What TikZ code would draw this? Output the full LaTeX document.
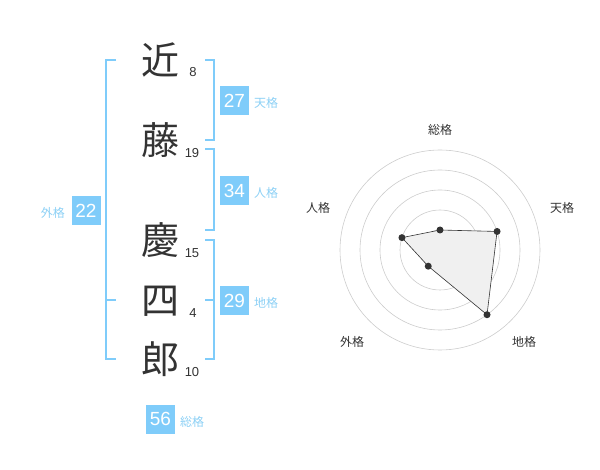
\documentclass[tikz,border=0pt]{standalone}
\usepackage{fontspec}
\setmainfont{Liberation Sans}
\newfontfamily\jp{Noto Sans CJK JP}
\definecolor{kakusky}{RGB}{127,204,250}
\definecolor{kakutext}{RGB}{140,208,245}
\definecolor{inkgray}{RGB}{51,51,51}
\tikzstyle{kanji}=[text=inkgray,font=\jp\fontsize{38}{38}\selectfont,inner sep=0pt]
\tikzstyle{strokes}=[text=inkgray,font=\fontsize{13}{13}\selectfont,inner sep=0pt]
\tikzstyle{score}=[fill=kakusky,text=white,font=\fontsize{19}{19}\selectfont,minimum size=29pt,inner sep=0pt]
\tikzstyle{kakuname}=[text=kakutext,font=\jp\fontsize{12}{12}\selectfont,inner sep=0pt]
\tikzstyle{bracket}=[draw=kakusky,line width=2pt]
\tikzstyle{ring}=[draw=black!20,line width=0.6pt]
\tikzstyle{vertexk}=[circle,fill=inkgray,minimum size=7pt,inner sep=0pt]
\tikzstyle{axisname}=[text=inkgray,font=\jp\fontsize{12}{12}\selectfont,inner sep=0pt]

\begin{document}
\begin{tikzpicture}[x=1pt,y=-1pt]
    \useasboundingbox (0,0) rectangle (600,470);
    % name
    \node[kanji] (k1) at (160,60)  {近};
    \node[kanji] (k2) at (160,140) {藤};
    \node[kanji] (k3) at (160,240) {慶};
    \node[kanji] (k4) at (160,301) {四};
    \node[kanji] (k5) at (160,359) {郎};
    \node[strokes] (s1) at (193,72)  {8};
    \node[strokes] (s2) at (192,153) {19};
    \node[strokes] (s3) at (192,253) {15};
    \node[strokes] (s4) at (193,313) {4};
    \node[strokes] (s5) at (192,372) {10};

    % brackets
    \draw[bracket] (116,60) -- (106,60) -- (106,359) -- (116,359);
    \draw[bracket] (106,300) -- (116,300);
    \draw[bracket] (205,60) -- (214,60) -- (214,140) -- (205,140);
    \draw[bracket] (205,149) -- (214,149) -- (214,230) -- (205,230);
    \draw[bracket] (205,240) -- (214,240) -- (214,359) -- (205,359);
    \draw[bracket] (205,300) -- (214,300);

    % scores
    \node[score] (ten) at (234.5,100.5) {27};
    \node[score] (jin) at (234.5,190.5) {34};
    \node[score] (chi) at (234.5,300.5) {29};
    \node[score] (gai) at (86,210.5)    {22};
    \node[score] (sou) at (160.5,419)   {56};
    \node[kakuname,anchor=west] (tenl) at (254,103) {天格};
    \node[kakuname,anchor=west] (jinl) at (254,193) {人格};
    \node[kakuname,anchor=west] (chil) at (254,303) {地格};
    \node[kakuname,anchor=east] (gail) at (65,213)  {外格};
    \node[kakuname,anchor=west] (soul) at (180,422) {総格};

    % radar
    \begin{scope}[shift={(440,250)}]
        \foreach \r in {20,40,60,80,100}
        \draw[ring] (0,0) circle (\r);
        \fill[black!20] (0,0) circle (4);
        \coordinate (r1) at (-90:20);
        \coordinate (r2) at (-18:60);
        \coordinate (r3) at (54:80);
        \coordinate (r4) at (126:20);
        \coordinate (r5) at (198:40);
        \draw[fill=black!6,draw=inkgray,line width=0.6pt] (r1) -- (r2) -- (r3) -- (r4) -- (r5) -- cycle;
        \foreach \p in {r1,r2,r3,r4,r5}
        \node[vertexk] (v\p) at (\p) {};
        \node[axisname] (a1) at (0,-120)      {総格};
        \node[axisname] (a2) at (122,-42)     {天格};
        \node[axisname] (a3) at (84,92)       {地格};
        \node[axisname] (a4) at (-88,92)      {外格};
        \node[axisname] (a5) at (-122,-42)    {人格};
    \end{scope}
\end{tikzpicture}
\end{document}
